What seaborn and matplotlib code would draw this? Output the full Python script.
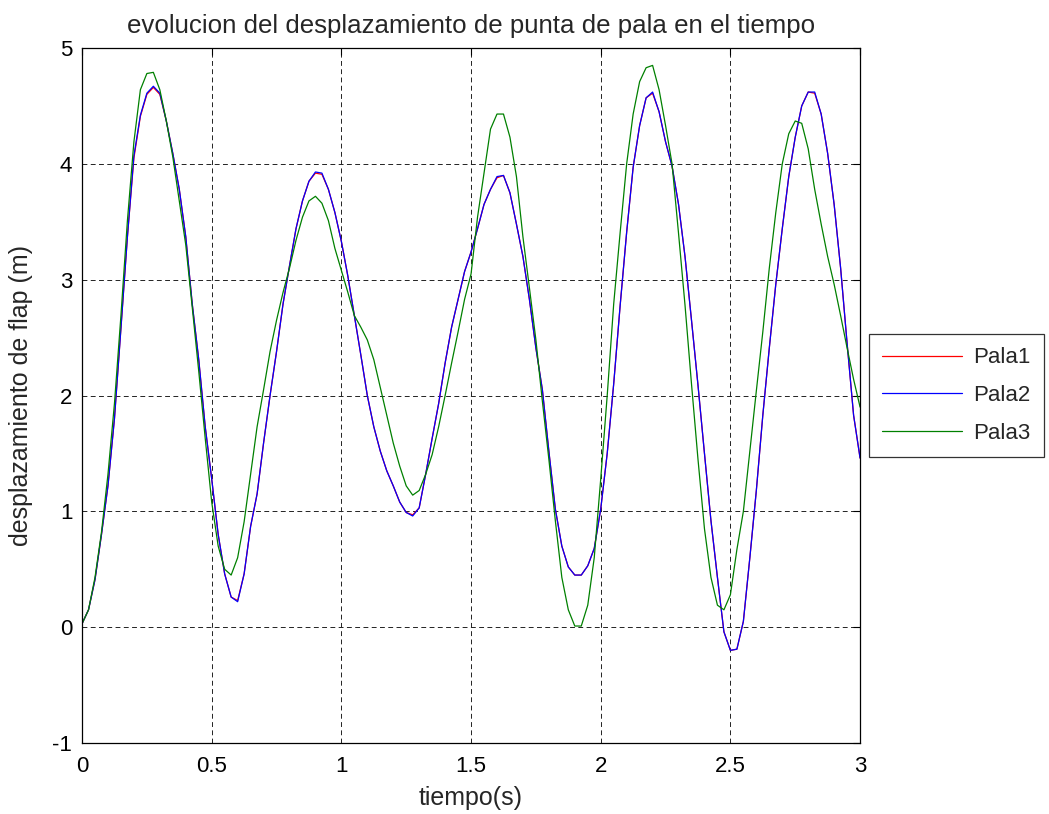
import numpy as np
import pandas as pd
import matplotlib
matplotlib.use("Agg")
import matplotlib.pyplot as plt
import seaborn as sns

# time base (s)
tiempo = [round(0.025 * i, 3) for i in range(121)]

# flap tip displacement of each blade (m)
pala1 = [
    0.03, 0.15, 0.41, 0.80, 1.22, 1.80, 2.58, 3.37, 4.05, 4.41,
    4.60, 4.66, 4.60, 4.37, 4.09, 3.78, 3.37, 2.79, 2.31, 1.73,
    1.28, 0.80, 0.46, 0.26, 0.23, 0.46, 0.87, 1.15, 1.59, 2.00,
    2.38, 2.79, 3.12, 3.44, 3.68, 3.85, 3.92, 3.91, 3.78, 3.58,
    3.33, 3.03, 2.69, 2.35, 2.00, 1.73, 1.52, 1.35, 1.22, 1.08,
    0.99, 0.97, 1.03, 1.32, 1.63, 1.93, 2.28, 2.59, 2.83, 3.07,
    3.24, 3.44, 3.65, 3.78, 3.88, 3.90, 3.75, 3.48, 3.20, 2.83,
    2.41, 2.05, 1.52, 1.02, 0.70, 0.52, 0.45, 0.45, 0.53, 0.68,
    1.02, 1.50, 2.10, 2.78, 3.41, 3.97, 4.33, 4.57, 4.61, 4.45,
    4.19, 3.98, 3.65, 3.20, 2.65, 2.09, 1.50, 0.92, 0.43, -0.04,
    -0.20, -0.19, 0.05, 0.60, 1.18, 1.83, 2.41, 2.96, 3.44, 3.89,
    4.23, 4.50, 4.62, 4.61, 4.43, 4.09, 3.65, 3.10, 2.45, 1.83,
    1.46,
]
pala2 = [
    0.03, 0.15, 0.41, 0.80, 1.22, 1.80, 2.58, 3.37, 4.07, 4.42,
    4.61, 4.67, 4.61, 4.37, 4.09, 3.78, 3.37, 2.79, 2.31, 1.73,
    1.28, 0.80, 0.46, 0.26, 0.22, 0.46, 0.87, 1.15, 1.59, 2.00,
    2.38, 2.79, 3.12, 3.44, 3.68, 3.85, 3.93, 3.92, 3.78, 3.58,
    3.33, 3.03, 2.69, 2.35, 2.00, 1.73, 1.52, 1.35, 1.22, 1.08,
    0.99, 0.96, 1.03, 1.32, 1.63, 1.93, 2.28, 2.59, 2.83, 3.07,
    3.24, 3.44, 3.65, 3.78, 3.89, 3.90, 3.75, 3.48, 3.20, 2.83,
    2.41, 2.05, 1.52, 1.02, 0.70, 0.52, 0.45, 0.45, 0.53, 0.68,
    1.02, 1.50, 2.10, 2.78, 3.41, 3.97, 4.33, 4.57, 4.62, 4.45,
    4.19, 3.98, 3.65, 3.20, 2.65, 2.09, 1.50, 0.92, 0.43, -0.04,
    -0.20, -0.19, 0.05, 0.60, 1.18, 1.83, 2.41, 2.96, 3.44, 3.89,
    4.23, 4.50, 4.62, 4.62, 4.43, 4.09, 3.65, 3.10, 2.45, 1.83,
    1.46,
]
pala3 = [
    0.03, 0.15, 0.43, 0.82, 1.32, 1.93, 2.69, 3.51, 4.19, 4.64,
    4.78, 4.79, 4.64, 4.37, 4.06, 3.68, 3.30, 2.76, 2.21, 1.63,
    1.08, 0.70, 0.50, 0.45, 0.60, 0.91, 1.32, 1.73, 2.05, 2.38,
    2.65, 2.89, 3.10, 3.34, 3.54, 3.68, 3.72, 3.66, 3.51, 3.27,
    3.08, 2.89, 2.69, 2.59, 2.48, 2.31, 2.07, 1.83, 1.59, 1.39,
    1.22, 1.14, 1.18, 1.32, 1.49, 1.73, 2.00, 2.28, 2.55, 2.83,
    3.05, 3.54, 3.92, 4.30, 4.43, 4.43, 4.23, 3.89, 3.37, 2.93,
    2.48, 1.95, 1.45, 0.92, 0.43, 0.15, 0.01, 0.01, 0.19, 0.60,
    1.28, 2.00, 2.79, 3.41, 4.00, 4.43, 4.71, 4.83, 4.85, 4.64,
    4.33, 4.00, 3.40, 2.78, 2.10, 1.45, 0.85, 0.43, 0.19, 0.15,
    0.28, 0.67, 1.00, 1.52, 2.04, 2.55, 3.10, 3.58, 4.00, 4.26,
    4.37, 4.35, 4.13, 3.78, 3.48, 3.20, 2.96, 2.69, 2.41, 2.14,
    1.90,
]
nombres = ["Pala1", "Pala2", "Pala3"]
colores = ["#ff0000", "#0000ff", "#008000"]

x_ticks = [0, 0.5, 1, 1.5, 2, 2.5, 3]
x_labels = ["0", "0.5", "1", "1.5", "2", "2.5", "3"]
y_ticks = [-1, 0, 1, 2, 3, 4, 5]
y_labels = ["-1", "0", "1", "2", "3", "4", "5"]

df = pd.DataFrame({
    "tiempo": tiempo * 3,
    "desp": pala1 + pala2 + pala3,
    "pala": sum([[n] * len(tiempo) for n in nombres], []),
})

sns.set_theme(style="white")
plt.rcParams["font.family"] = ["Liberation Sans", "DejaVu Sans"]

fig = plt.figure(figsize=(10.49, 8.14), dpi=100)
ax = fig.add_axes([0.0782, 0.0872, 0.7417, 0.8538])

sns.lineplot(data=df, x="tiempo", y="desp", hue="pala",
             palette=dict(zip(nombres, colores)), linewidth=0.9,
             ax=ax, legend=False, sort=False, estimator=None)

ax.set_xlim(0, 3)
ax.set_ylim(-1, 5)
ax.set_xticks(x_ticks)
ax.set_xticklabels(x_labels)
ax.set_yticks(y_ticks)
ax.set_yticklabels(y_labels)
ax.tick_params(direction="in", length=5, width=0.8, labelsize=16,
               top=True, right=True, colors="black")
ax.tick_params(axis="x", pad=9)
ax.tick_params(axis="y", pad=7)
ax.grid(True, color="#222222", linestyle=(0, (5, 3.5)), linewidth=0.7)
for s in ax.spines.values():
    s.set_color("black")
    s.set_linewidth(0.9)

ax.set_xlabel("tiempo(s)", fontsize=18, labelpad=7)
ax.set_ylabel("desplazamiento de flap (m)", fontsize=18, labelpad=14)
ax.set_title("evolucion del desplazamiento de punta de pala en el tiempo",
             fontsize=18.6, pad=11)

handles = [plt.Line2D([], [], color=c, linewidth=0.9) for c in colores]
leg = ax.legend(handles, nombres, loc="center left",
                bbox_to_anchor=(1.0116, 0.5), fontsize=16, frameon=True,
                fancybox=False, edgecolor="black", handlelength=3.6,
                handletextpad=0.5, borderpad=0.6, labelspacing=0.75,
                borderaxespad=0)
leg.get_frame().set_linewidth(0.9)

fig.savefig("out.png", dpi=100, facecolor="white")
